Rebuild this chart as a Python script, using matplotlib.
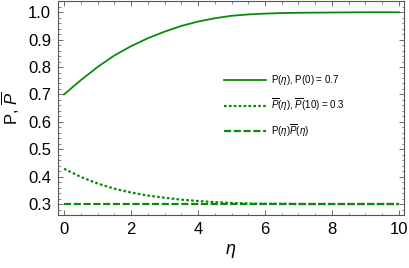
import matplotlib
matplotlib.use("Agg")
from matplotlib import pyplot as plt
from matplotlib.ticker import MultipleLocator

# values
eta = [0, 0.5, 1, 1.5, 2, 2.5, 3, 3.5, 4, 4.5, 5, 5.5, 6, 6.5, 7, 8, 9, 10]
p = [0.700, 0.752, 0.800, 0.842, 0.876, 0.905, 0.929, 0.950, 0.966, 0.978,
     0.987, 0.992, 0.995, 0.997, 0.998, 0.999, 1.000, 1.000]
p_bar = [0.429, 0.399, 0.375, 0.356, 0.342, 0.331, 0.323, 0.316, 0.311, 0.307,
         0.304, 0.302, 0.301, 0.301, 0.300, 0.300, 0.300, 0.300]
product = [0.300] * len(eta)

labels = [r"P($\eta$), P(0) = 0.7",
          r"$\overline{P}$($\eta$), $\overline{P}$(10) = 0.3",
          r"P($\eta$)$\overline{P}$($\eta$)"]

plt.rcParams["font.family"] = ["Liberation Sans", "DejaVu Sans"]
plt.rcParams["mathtext.fontset"] = "custom"
plt.rcParams["mathtext.rm"] = "Liberation Sans"
plt.rcParams["mathtext.it"] = "Liberation Sans:italic"

green = "#0a8a0a"

fig = plt.figure(figsize=(4.09, 2.68), dpi=100)
ax = fig.add_axes([58 / 409, 1 - 215 / 268, 346 / 409, 214 / 268])

ax.plot(eta, p, color=green, lw=1.3, label=labels[0])
ax.plot(eta, p_bar, color=green, lw=1.6, linestyle=(0, (1.2, 1.0)), label=labels[1])
ax.plot(eta, product, color=green, lw=1.6, linestyle=(0, (3.2, 1.2)), label=labels[2])

ax.set_xlim(-0.18, 10.15)
ax.set_ylim(0.26, 1.041)
ax.xaxis.set_major_locator(MultipleLocator(2))
ax.xaxis.set_minor_locator(MultipleLocator(0.5))
ax.yaxis.set_major_locator(MultipleLocator(0.1))
ax.yaxis.set_minor_locator(MultipleLocator(0.02))
ax.yaxis.set_major_formatter(matplotlib.ticker.FormatStrFormatter("%.1f"))

ax.tick_params(which="both", direction="in", top=True, right=True, color="#555555")
ax.tick_params(which="major", length=3.5, width=0.6, labelsize=12, pad=5)
ax.tick_params(which="minor", length=1.8, width=0.5)
for s in ax.spines.values():
    s.set_color("#555555")
    s.set_linewidth(0.8)

ax.set_xlabel(r"$\eta$", fontsize=13, labelpad=4)
ax.set_ylabel(r"P, $\overline{P}$", fontsize=12, labelpad=4)

ax.legend(loc="upper left", bbox_to_anchor=(0.465, 0.685), frameon=False,
          fontsize=7, handlelength=4.3, handletextpad=0.6,
          labelspacing=0.95, borderpad=0)

plt.savefig("out.png", dpi=100)
plt.close()
